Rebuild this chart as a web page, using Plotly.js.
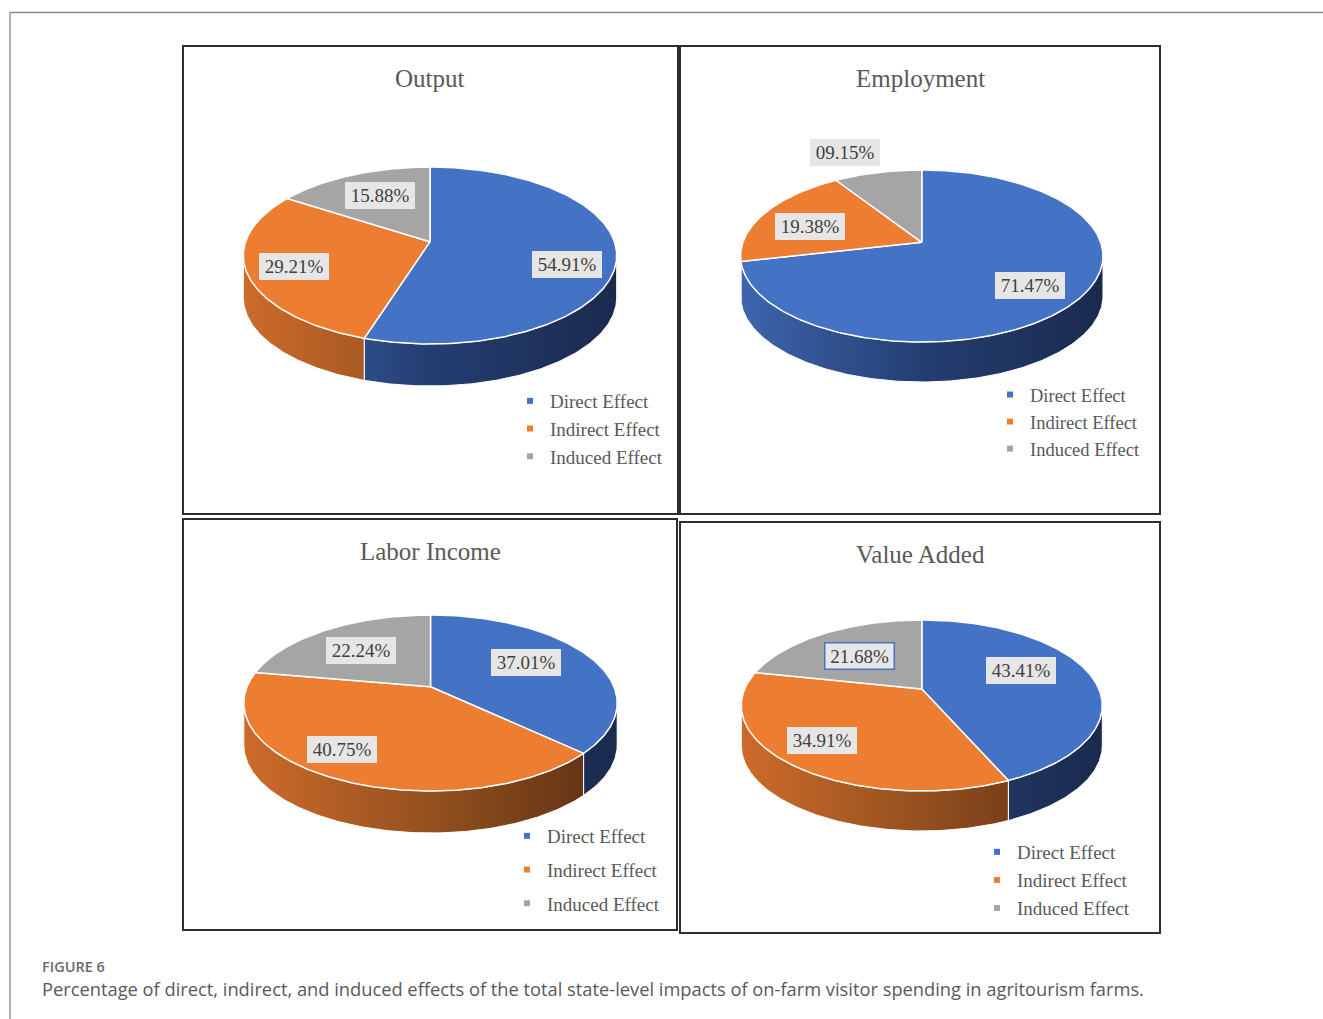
<!DOCTYPE html>
<html>
<head>
<meta charset="utf-8">
<script src="https://cdn.plot.ly/plotly-3.0.1.min.js"></script>
<style>
html,body{margin:0;padding:0;background:#fff;}
#chart{width:1323px;height:1019px;}
</style>
</head>
<body>
<div id="chart"></div>
<script>
// ---------------- data ----------------
const categories = ['Direct Effect', 'Indirect Effect', 'Induced Effect'];
const panelTitles = ['Output', 'Employment', 'Labor Income', 'Value Added'];
const outputShares = [54.91, 29.21, 15.88];
const employmentShares = [71.47, 19.38, 9.15];
const laborIncomeShares = [37.01, 40.75, 22.24];
const valueAddedShares = [43.41, 34.91, 21.68];
const panelShares = [outputShares, employmentShares, laborIncomeShares, valueAddedShares];
const figureLabel = 'FIGURE 6';
const captionText = 'Percentage of direct, indirect, and induced effects of the total state-level impacts of on-farm visitor spending in agritourism farms.';

// ---------------- style / layout ----------------
const W = 1323, H = 1019;
const topColors = ['#4472C4', '#ED7D31', '#A5A5A5'];
const wallScales = [
  [[0, '#3e65ae'], [0.5, '#243e72'], [1, '#1a2a4e']],
  [[0, '#cd6b2a'], [0.5, '#94501f'], [1, '#5c2f13']],
  [[0, '#8c8c8c'], [0.5, '#666666'], [1, '#444444']]
];
const serif = 'Liberation Serif, Times New Roman, serif';

const panels = [
  {box: [183, 46, 678, 514], cx: 430.0, cy: 241.7, rx: 186.7, far: 74.7, near: 102.3, h: 42,
   title: [430, 78], leg: [550, 397], legFont: 19, legGap: 0,
   nudges: [[3, 13], [-6, 3], [8, 3]], framed: [false, false, false]},
  {box: [680, 46, 1160, 514], cx: 921.8, cy: 242.3, rx: 181.2, far: 72.3, near: 99.7, h: 40,
   title: [920, 78], leg: [1030, 391], legFont: 18.5, legGap: 0,
   nudges: [[0, 3], [3, 6], [-44, -38]], framed: [false, false, false]},
  {box: [183, 519, 677, 930], cx: 430.5, cy: 686.7, rx: 186.7, far: 71.7, near: 104.3, h: 42,
   title: [430, 551], leg: [547, 832], legFont: 19, legGap: 6,
   nudges: [[-20, -1], [-21, 1], [8, 6]], framed: [false, false, false]},
  {box: [680, 522, 1160, 933], cx: 921.8, cy: 689.0, rx: 180.5, far: 69.0, near: 102.0, h: 40,
   title: [920, 554], leg: [1017, 848], legFont: 19, legGap: 0.4,
   nudges: [[-22, -7], [-10, 0], [10, 9]], framed: [false, false, true]}
];

panels.forEach(p => {
  p.k = (p.near - p.far) / (p.near + p.far);
  p.Rt = p.far * (1 + p.k);
  p.R = p.rx * Math.sqrt(1 - p.k * p.k);
});

function proj(p, thetaDeg, f) {
  const a = thetaDeg * Math.PI / 180;
  const X = f * Math.sin(a), D = f * Math.cos(a);
  const s = 1 / (1 + p.k * D);
  return [p.cx + p.R * X * s, p.cy - p.Rt * D * s];
}

function arc(p, a0, a1) {
  const n = Math.max(2, Math.ceil(Math.abs(a1 - a0) / 0.75));
  const pts = [];
  for (let i = 0; i <= n; i++) pts.push(proj(p, a0 + (a1 - a0) * i / n, 1));
  return pts;
}

function fmtPct(v) {
  const s = v.toFixed(2);
  return (s.length < 5 ? '0' + s : s) + '%';
}

const traces = [];
const annotations = [];
const shapes = [];
const layoutLegends = {};

// outer frame
shapes.push({type: 'path', xref: 'x', yref: 'y', path: 'M 10 1019 L 10 12.5 L 1323 12.5',
  line: {color: '#8a8a8a', width: 1.3}});

panels.forEach((p, pi) => {
  const vals = panelShares[pi];
  const total = vals.reduce((a, b) => a + b, 0);
  const starts = [], ends = [];
  let acc = 0;
  vals.forEach(v => { starts.push(acc / total * 360); acc += v; ends.push(acc / total * 360); });

  const v0 = Math.acos(-p.k) * 180 / Math.PI, v1 = 360 - v0;
  // side walls
  vals.forEach((v, i) => {
    const lo = Math.max(starts[i], v0), hi = Math.min(ends[i], v1);
    if (hi <= lo) return;
    const topPts = arc(p, lo, hi);
    const pts = topPts.concat(topPts.slice().reverse().map(q => [q[0], q[1] + p.h]));
    pts.push(pts[0]);
    traces.push({
      type: 'scatter', mode: 'lines', x: pts.map(q => q[0]), y: pts.map(q => q[1]),
      fill: 'toself', line: {color: '#ffffff', width: 1},
      fillgradient: {type: 'horizontal', colorscale: wallScales[i], start: p.cx - p.rx, stop: p.cx + p.rx},
      hoverinfo: 'skip', showlegend: false
    });
  });
  // top faces
  vals.forEach((v, i) => {
    const pts = [[p.cx, p.cy]].concat(arc(p, starts[i], ends[i]));
    pts.push([p.cx, p.cy]);
    traces.push({
      type: 'scatter', mode: 'lines', x: pts.map(q => q[0]), y: pts.map(q => q[1]),
      fill: 'toself', fillcolor: topColors[i], line: {color: '#ffffff', width: 1.5},
      name: categories[i], text: fmtPct(v), hoverinfo: 'name+text', showlegend: false
    });
  });
  // data labels
  vals.forEach((v, i) => {
    const mid = (starts[i] + ends[i]) / 2;
    const q = proj(p, mid, 0.72);
    const ann = {
      xref: 'x', yref: 'y', x: q[0] + p.nudges[i][0], y: q[1] + p.nudges[i][1],
      text: fmtPct(v), showarrow: false,
      font: {family: serif, size: 19, color: '#404040'},
      bgcolor: '#e7e6e6', width: 64, height: 21, borderpad: 3, borderwidth: 0
    };
    if (p.framed[i]) { ann.borderwidth = 1.5; ann.bordercolor = '#4472C4'; ann.borderpad = 2; }
    annotations.push(ann);
  });
  // title
  annotations.push({xref: 'x', yref: 'y', x: p.title[0], y: p.title[1], text: panelTitles[pi],
    showarrow: false, font: {family: serif, size: 25, color: '#595959'}});
  // box
  shapes.push({type: 'rect', xref: 'x', yref: 'y', x0: p.box[0], y0: p.box[1], x1: p.box[2], y1: p.box[3],
    line: {color: '#2e2e2e', width: 2}});
  // legend
  const legName = pi === 0 ? 'legend' : 'legend' + (pi + 1);
  categories.forEach((c, i) => {
    traces.push({type: 'scatter', mode: 'markers', x: [null], y: [null], name: c,
      legend: legName, legendgroup: 'p' + pi + 'c' + i, showlegend: true,
      marker: {symbol: 'square', size: 6, color: topColors[i]}, hoverinfo: 'skip'});
  });
  layoutLegends[legName] = {
    x: (p.leg[0] - 40) / W, y: 1 - (p.leg[1] - 15) / H, xanchor: 'left', yanchor: 'top',
    font: {family: serif, size: p.legFont, color: '#595959'}, bgcolor: 'rgba(0,0,0,0)',
    borderwidth: 0, tracegroupgap: p.legGap, itemclick: false, itemdoubleclick: false
  };
});

// caption
annotations.push({xref: 'x', yref: 'y', x: 40, y: 966, xanchor: 'left', text: figureLabel, showarrow: false,
  font: {family: 'Open Sans, Noto Sans, sans-serif', size: 14.5, color: '#6b6b6b', weight: 600}});
annotations.push({xref: 'x', yref: 'y', x: 40, y: 988, xanchor: 'left', text: captionText, showarrow: false,
  font: {family: 'Open Sans, Noto Sans, sans-serif', size: 18.3, color: '#595959'}});

const layout = Object.assign({
  width: W, height: H, margin: {l: 0, r: 0, t: 0, b: 0},
  paper_bgcolor: '#ffffff', plot_bgcolor: '#ffffff',
  xaxis: {range: [0, W], visible: false, fixedrange: true},
  yaxis: {range: [H, 0], visible: false, fixedrange: true},
  showlegend: true, annotations: annotations, shapes: shapes
}, layoutLegends);

Plotly.newPlot('chart', traces, layout, {displayModeBar: false, staticPlot: true});
</script>
</body>
</html>
